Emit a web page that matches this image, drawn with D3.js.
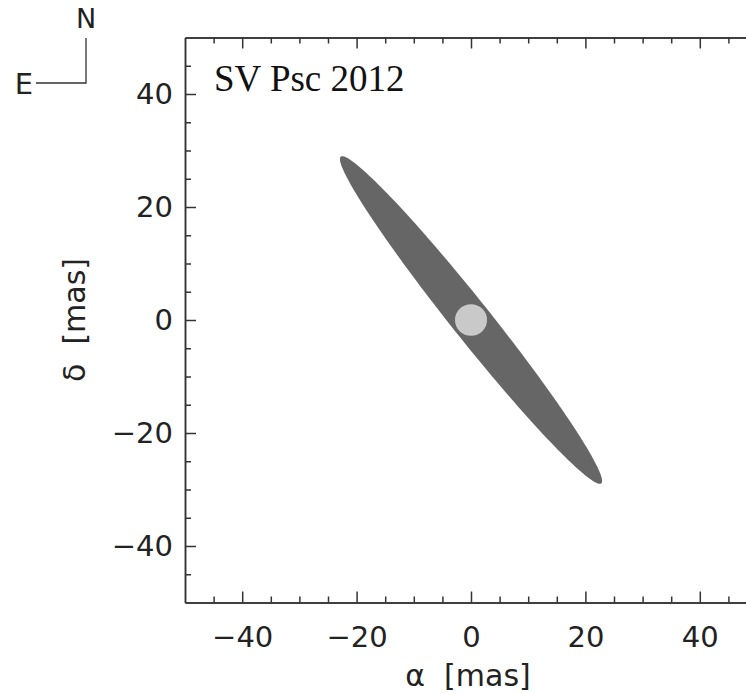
<!DOCTYPE html>
<html>
<head>
<meta charset="utf-8">
<script src="https://cdn.jsdelivr.net/npm/d3@7"></script>
<style>
  body { margin: 0; background: #fff; }
  svg { display: block; }
  .axis text { font-family: 'DejaVu Sans', sans-serif; font-size: 29px; fill: #222; }
  .axis path, .axis line { stroke: #333; stroke-width: 1.5; }
</style>
</head>
<body>
<div class="chart"></div>
<script>
// SV Psc 2012 - elongated ellipse model with central star

// data (mas)
let domainAlpha = [-50, 50];
let domainDelta = [-50, 50];
let majorTicks = [-40, -20, 0, 20, 40];
let minorTicks = d3.range(-45, 50, 5).filter(d => d % 20 != 0);
let ellipseCenter = [0, 0];
let ellipseAxes = [36.8, 3.4];      // semi-major, semi-minor
let ellipseAngle = [38.2];          // degrees, major axis from north towards -alpha
let starCenter = [0, 0];
let starRadius = [2.8];

let width = 746, height = 694;
let plot = {left: 185, right: 757, top: 37.5, bottom: 602.5};

let xScale = d3.scaleLinear().domain(domainAlpha).range([plot.left, plot.right]);
let yScale = d3.scaleLinear().domain(domainDelta).range([plot.bottom, plot.top]);

let svg = d3.select('.chart')
  .append('svg')
  .attr('width', width)
  .attr('height', height);

// ellipse outline in data space, mapped through scales
let theta = ellipseAngle[0] * Math.PI / 180;
let ux = -Math.sin(theta), uy = Math.cos(theta);   // major axis direction
let vx = Math.cos(theta), vy = Math.sin(theta);    // minor axis direction
let pts = d3.range(0, 361, 2).map(function(deg) {
  let t = deg * Math.PI / 180;
  let a = ellipseAxes[0] * Math.cos(t), b = ellipseAxes[1] * Math.sin(t);
  return [ellipseCenter[0] + a * ux + b * vx, ellipseCenter[1] + a * uy + b * vy];
});
let line = d3.line()
  .x(d => xScale(d[0]))
  .y(d => yScale(d[1]))
  .curve(d3.curveLinearClosed);

svg.append('path')
  .attr('d', line(pts))
  .attr('fill', '#666666');

// central star
svg.append('ellipse')
  .attr('cx', xScale(starCenter[0]))
  .attr('cy', yScale(starCenter[1]))
  .attr('rx', xScale(starRadius[0]) - xScale(0))
  .attr('ry', yScale(0) - yScale(starRadius[0]))
  .attr('fill', '#c9c9c9');

// axes - ticks point inward
function addAxis(axisFn, scale, transform, labels) {
  svg.append('g')
    .attr('class', 'axis')
    .attr('transform', transform)
    .call(axisFn(scale).tickValues(minorTicks).tickSizeInner(-6).tickSizeOuter(0).tickFormat(''));
  let g = svg.append('g')
    .attr('class', 'axis')
    .attr('transform', transform)
    .call(axisFn(scale).tickValues(majorTicks).tickSizeInner(-11).tickSizeOuter(0)
      .tickPadding(axisFn == d3.axisLeft ? 12 : 24));
  if (!labels) g.selectAll('text').remove();
}
addAxis(d3.axisBottom, xScale, 'translate(0,' + plot.bottom + ')', true);
addAxis(d3.axisTop, xScale, 'translate(0,' + plot.top + ')', false);
addAxis(d3.axisLeft, yScale, 'translate(' + plot.left + ',0)', true);
addAxis(d3.axisRight, yScale, 'translate(' + plot.right + ',0)', false);

// axis titles
svg.append('text')
  .attr('x', 468)
  .attr('y', 686)
  .attr('text-anchor', 'middle')
  .style('font-family', "'DejaVu Sans', sans-serif")
  .style('font-size', '30px')
  .style('fill', '#222')
  .text('α\u00a0\u00a0[mas]');

svg.append('text')
  .attr('transform', 'translate(85,' + yScale(0) + ') rotate(-90)')
  .attr('text-anchor', 'middle')
  .style('font-family', "'DejaVu Sans', sans-serif")
  .style('font-size', '30px')
  .style('fill', '#222')
  .text('δ\u00a0\u00a0[mas]');

// panel title
svg.append('text')
  .attr('x', 214)
  .attr('y', 91)
  .style('font-family', "'Liberation Serif', 'Times New Roman', serif")
  .style('font-size', '37px')
  .style('fill', '#111')
  .text('SV Psc 2012');

// compass
svg.append('path')
  .attr('d', 'M36,83H86V38')
  .attr('fill', 'none')
  .attr('stroke', '#333')
  .attr('stroke-width', 1.3);
svg.append('text')
  .attr('x', 86)
  .attr('y', 28)
  .attr('text-anchor', 'middle')
  .style('font-family', "'DejaVu Sans', sans-serif")
  .style('font-size', '27px')
  .style('fill', '#222')
  .text('N');
svg.append('text')
  .attr('x', 33)
  .attr('y', 94)
  .attr('text-anchor', 'end')
  .style('font-family', "'DejaVu Sans', sans-serif")
  .style('font-size', '29px')
  .style('fill', '#222')
  .text('E');
</script>
</body>
</html>
